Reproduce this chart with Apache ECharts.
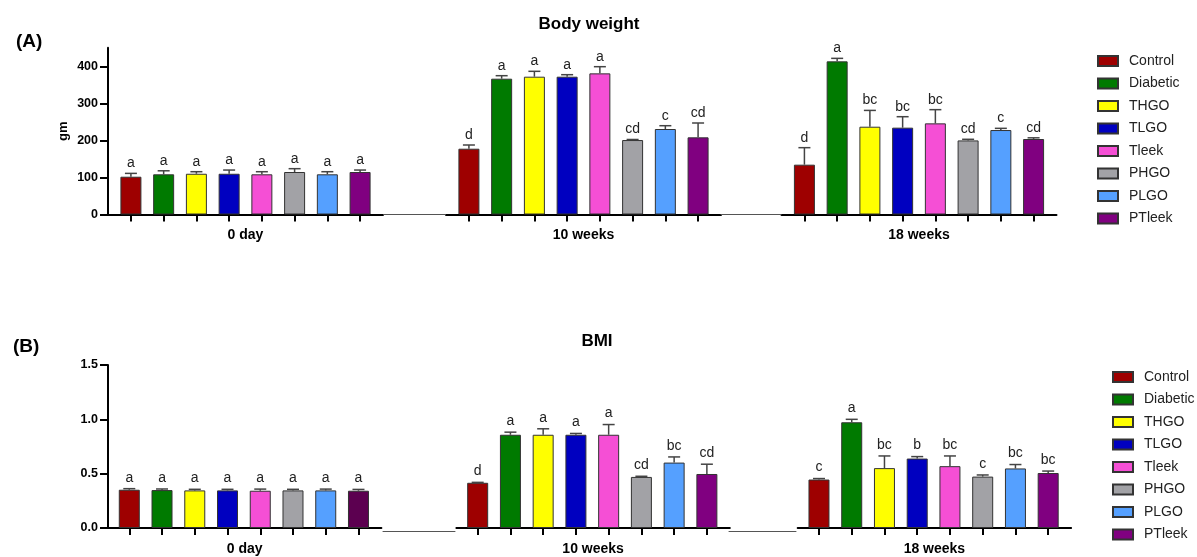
<!DOCTYPE html>
<html>
<head>
<meta charset="utf-8">
<script src="https://cdn.jsdelivr.net/npm/echarts@6/dist/echarts.min.js"></script>
<style>
    html, body, #main {
        width: 100%;
        height: 100%;
        margin: 0;
        background: #fff;
    }
</style>
</head>
<body>
<div id="main"></div>
<script>
var groups = ['0 day', '10 weeks', '18 weeks'];
var treatments = ['Control', 'Diabetic', 'THGO', 'TLGO', 'Tleek', 'PHGO', 'PLGO', 'PTleek'];
var colors = ['#9e0000', '#007a00', '#ffff00', '#0000c0', '#f54fd5', '#a2a2a6', '#55a0ff', '#800080'];

// body weight (gm): bar height and top of error bar, one row per time point
var weightMean = [
    [102, 108.5, 110, 110, 108.5, 114.7, 108.5, 114.7],
    [177.6, 366.6, 372, 372, 381, 201, 230.8, 208.3],
    [134.5, 413.4, 237, 234.4, 246, 200, 228, 203.8]
];
var weightErr = [
    [111, 118, 115.5, 120, 115.5, 123.7, 115.5, 120],
    [187.6, 374.7, 386.5, 377.4, 399, 202.5, 239.7, 247],
    [180.4, 421.5, 281, 264, 283, 203, 232.6, 207]
];
var weightLetters = [
    ['a', 'a', 'a', 'a', 'a', 'a', 'a', 'a'],
    ['d', 'a', 'a', 'a', 'a', 'cd', 'c', 'cd'],
    ['d', 'a', 'bc', 'bc', 'bc', 'cd', 'c', 'cd']
];
var weightTicks = [0, 100, 200, 300, 400];

// BMI
var bmiMean = [
    [0.352, 0.349, 0.346, 0.346, 0.343, 0.346, 0.346, 0.343],
    [0.416, 0.858, 0.858, 0.858, 0.858, 0.47, 0.602, 0.497],
    [0.446, 0.973, 0.551, 0.639, 0.569, 0.473, 0.548, 0.506]
];
var bmiErr = [
    [0.362, 0.359, 0.356, 0.356, 0.358, 0.356, 0.358, 0.355],
    [0.42, 0.882, 0.913, 0.87, 0.952, 0.476, 0.654, 0.587],
    [0.455, 1.0, 0.663, 0.657, 0.663, 0.488, 0.584, 0.524]
];
var bmiLetters = [
    ['a', 'a', 'a', 'a', 'a', 'a', 'a', 'a'],
    ['d', 'a', 'a', 'a', 'a', 'cd', 'bc', 'cd'],
    ['c', 'a', 'bc', 'b', 'bc', 'c', 'bc', 'bc']
];
var bmiTicks = [0, 0.5, 1, 1.5];

var FONT = '"Liberation Sans", Arial, sans-serif';

var chart = echarts.init(document.getElementById('main'));

var grid = [], xAxis = [], yAxis = [], series = [], legend = [];

function addPanel(p) {
    // one grid per time point
    for (var g = 0; g < groups.length; g++) {
        var k = grid.length;
        grid.push({left: p.lefts[g], top: p.top, width: p.width, height: p.height});
        xAxis.push({
            gridIndex: k,
            type: 'value',
            min: p.xMin,
            max: p.xMax,
            name: groups[g],
            nameLocation: 'middle',
            nameGap: 14,
            nameTextStyle: {fontFamily: FONT, fontWeight: 'bold', fontSize: 14, color: '#000'},
            axisLine: {show: true, onZero: false, lineStyle: {color: '#000', width: 2}},
            axisTick: {show: true, length: 7, lineStyle: {color: '#000', width: 2},
                customValues: [0, 1, 2, 3, 4, 5, 6, 7]},
            axisLabel: {show: false},
            splitLine: {show: false}
        });
        var ya = {
            gridIndex: k,
            type: 'value',
            min: 0,
            max: p.yMax,
            show: g === 0,
            splitLine: {show: false},
            axisLine: {show: true, onZero: false, lineStyle: {color: '#000', width: 2}},
            axisTick: {show: true, length: 8, lineStyle: {color: '#000', width: 2},
                customValues: p.ticks},
            axisLabel: {fontFamily: FONT, fontWeight: 'bold', fontSize: 12.5, color: '#000',
                margin: 10, customValues: p.ticks, formatter: p.fmt}
        };
        if (p.yName) {
            ya.name = p.yName;
            ya.nameLocation = 'middle';
            ya.nameGap = 38;
            ya.nameTextStyle = {fontFamily: FONT, fontWeight: 'bold', fontSize: 13, color: '#000'};
        }
        yAxis.push(ya);

        for (var t = 0; t < treatments.length; t++) {
            var item = {value: [t, p.mean[g][t]]};
            if (p.dark && p.dark[0] === g && p.dark[1] === t) {
                item.itemStyle = {color: p.dark[2]};
            }
            series.push({
                type: 'bar',
                name: treatments[t],
                xAxisIndex: k,
                yAxisIndex: k,
                barWidth: 21,
                barGap: '-100%',
                itemStyle: {color: colors[t], borderColor: '#333', borderWidth: 1},
                data: [item]
            });
        }

        // error bars and letters
        (function (g, k) {
            var rows = treatments.map(function (n, t) {
                return [t, p.mean[g][t], p.err[g][t]];
            });
            series.push({
                type: 'custom',
                xAxisIndex: k,
                yAxisIndex: k,
                z: 5,
                data: rows,
                renderItem: function (params, api) {
                    var b = api.coord([api.value(0), api.value(1)]);
                    var e = api.coord([api.value(0), api.value(2)]);
                    var ls = {stroke: '#444', lineWidth: 1.5};
                    return {
                        type: 'group',
                        children: [
                            {type: 'line', shape: {x1: b[0], y1: b[1], x2: e[0], y2: e[1]}, style: ls},
                            {type: 'line', shape: {x1: e[0] - 6, y1: e[1], x2: e[0] + 6, y2: e[1]}, style: ls},
                            {type: 'text', x: e[0], y: e[1] - p.letterGap, style: {
                                text: p.letters[g][params.dataIndex], fontFamily: FONT, fontSize: 14,
                                fill: '#222', align: 'center', verticalAlign: 'bottom'}}
                        ]
                    };
                }
            });
        })(g, k);
    }

    // thin axis pieces between time points
    p.gaps.forEach(function (gp) {
        var k = grid.length;
        grid.push({left: gp[0], top: p.top, width: gp[1], height: p.height});
        xAxis.push({
            gridIndex: k, type: 'value', min: 0, max: 1,
            axisLine: {show: true, onZero: false, lineStyle: {color: '#555', width: 1}},
            axisTick: {show: false}, axisLabel: {show: false}, splitLine: {show: false}
        });
        yAxis.push({gridIndex: k, type: 'value', min: 0, max: p.yMax, show: false});
    });

    legend.push({
        orient: 'vertical',
        left: p.legendLeft,
        top: p.legendTop,
        padding: 0,
        itemWidth: 20,
        itemHeight: 10,
        itemGap: 8.5,
        icon: 'rect',
        data: treatments,
        textStyle: {fontFamily: FONT, fontSize: 14, color: '#222', lineHeight: 14, padding: [0, 0, 0, 6]}
    });
}

addPanel({
    top: 47.8, height: 166.7, yMax: 450, ticks: weightTicks, yName: 'gm',
    fmt: function (v) { return String(v); },
    lefts: [108, 446, 781.5], width: 275, xMin: -0.7, xMax: 7.7,
    gaps: [[384, 61], [721, 60]],
    mean: weightMean, err: weightErr, letters: weightLetters, letterGap: 3,
    legendLeft: 1097, legendTop: 54
});

addPanel({
    top: 365, height: 166, yMax: 1.5, ticks: bmiTicks, yName: null,
    fmt: function (v) { return v.toFixed(1); },
    lefts: [108, 456.4, 797.7], width: 273.4, xMin: -0.65, xMax: 7.7,
    gaps: [[383, 72], [729, 67]],
    mean: bmiMean, err: bmiErr, letters: bmiLetters, letterGap: 4,
    dark: [0, 7, '#5c0050'],
    legendLeft: 1112, legendTop: 370
});

chart.setOption({
    animation: false,
    title: [
        {text: 'Body weight', left: 584, top: 11, textAlign: 'center',
            textStyle: {fontFamily: FONT, fontWeight: 'bold', fontSize: 17, color: '#000'}},
        {text: 'BMI', left: 592, top: 328, textAlign: 'center',
            textStyle: {fontFamily: FONT, fontWeight: 'bold', fontSize: 17, color: '#000'}},
        {text: '(A)', left: 11, top: 27,
            textStyle: {fontFamily: FONT, fontWeight: 'bold', fontSize: 19, color: '#000'}},
        {text: '(B)', left: 8, top: 332,
            textStyle: {fontFamily: FONT, fontWeight: 'bold', fontSize: 19, color: '#000'}}
    ],
    legend: legend,
    grid: grid,
    xAxis: xAxis,
    yAxis: yAxis,
    series: series
});
</script>
</body>
</html>
